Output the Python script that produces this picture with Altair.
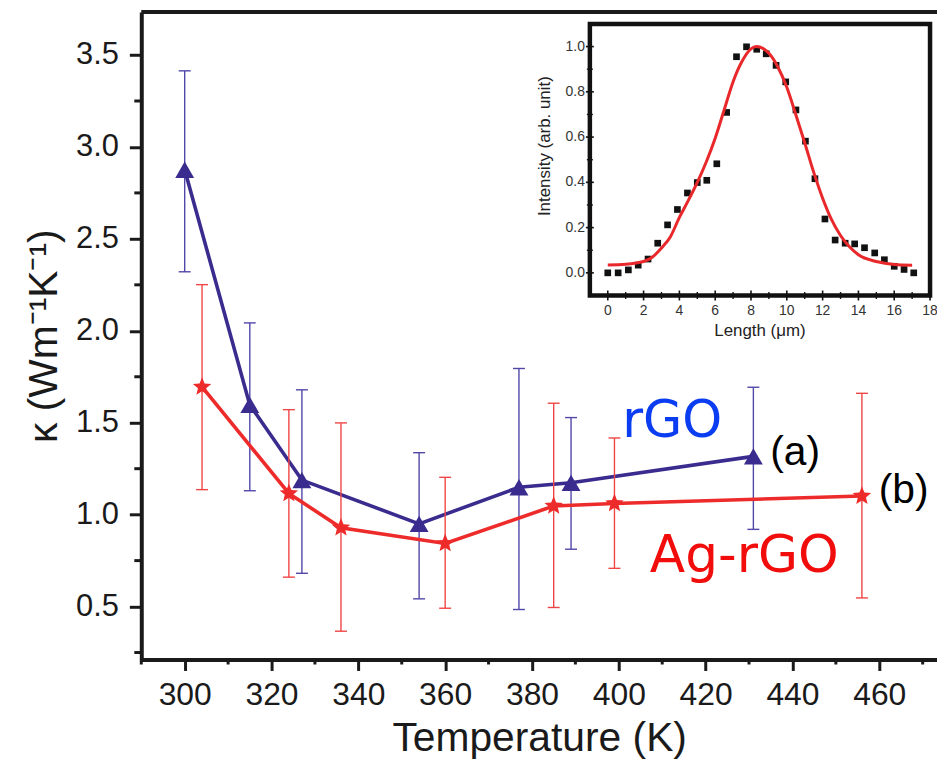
import altair as alt
import pandas as pd

# ---------------- main data ----------------
rgo_T = [300, 315, 327, 354, 377, 389, 431]
rgo_k = [2.876, 1.597, 1.188, 0.950, 1.149, 1.173, 1.317]
rgo_lo = [2.321, 1.130, 0.681, 0.542, 0.484, 0.812, 0.920]
rgo_hi = [3.414, 2.043, 1.679, 1.337, 1.795, 1.528, 1.693]

ag_T = [304, 324, 336, 360, 385, 399, 456]
ag_k = [1.695, 1.115, 0.929, 0.843, 1.047, 1.061, 1.101]
ag_lo = [1.136, 0.660, 0.366, 0.491, 0.495, 0.708, 0.547]
ag_hi = [2.251, 1.571, 1.499, 1.203, 1.606, 1.417, 1.660]

x_major = [300, 320, 340, 360, 380, 400, 420, 440, 460]
x_minor = [290, 310, 330, 350, 370, 390, 410, 430, 450, 470]
y_major = [0.5, 1.0, 1.5, 2.0, 2.5, 3.0, 3.5]
y_minor = [0.25, 0.75, 1.25, 1.75, 2.25, 2.75, 3.25]

# annotation labels (anchored in data coordinates)
rgo_label = ["rGO"]
rgo_label_T = [412.3]
rgo_label_k = [1.424]
ag_label = ["Ag-rGO"]
ag_label_T = [428.9]
ag_label_k = [0.688]
small_labels = ["(a)", "(b)"]
small_T = [440.6, 465.6]
small_k = [1.272, 1.061]

# ---------------- inset data ----------------
inset_L = [0.0, 0.58, 1.15, 1.70, 2.25, 2.79, 3.34, 3.89, 4.45, 5.0, 5.53, 6.09,
           6.64, 7.19, 7.75, 8.32, 8.85, 9.40, 9.94, 10.51, 11.04, 11.57, 12.13,
           12.70, 13.26, 13.79, 14.34, 14.91, 15.45, 16.0, 16.55, 17.09]
inset_I = [0.0, 0.0, 0.013, 0.034, 0.061, 0.131, 0.212, 0.280, 0.353, 0.399, 0.409,
           0.482, 0.709, 0.955, 0.999, 0.988, 0.968, 0.917, 0.844, 0.720, 0.582,
           0.416, 0.238, 0.145, 0.131, 0.128, 0.111, 0.088, 0.058, 0.029, 0.015, 0.0]
fit_L = [0, 1, 2, 2.5, 3, 3.5, 4, 4.5, 5, 5.5, 6, 6.5, 7, 7.5, 8, 8.3, 8.7, 9, 9.5,
         10, 10.5, 11, 11.5, 12, 12.5, 13, 13.5, 14, 15, 16, 17]
fit_I = [0.035, 0.038, 0.05, 0.07, 0.11, 0.16, 0.245, 0.32, 0.40, 0.49, 0.595, 0.72,
         0.845, 0.935, 0.99, 1.0, 0.99, 0.97, 0.91, 0.82, 0.70, 0.575, 0.445, 0.33,
         0.235, 0.165, 0.115, 0.08, 0.05, 0.037, 0.034]
inset_x_major = [0, 2, 4, 6, 8, 10, 12, 14, 16, 18]
inset_x_minor = [1, 3, 5, 7, 9, 11, 13, 15, 17]
inset_y_major = [0.0, 0.2, 0.4, 0.6, 0.8, 1.0]
inset_y_minor = [0.1, 0.3, 0.5, 0.7, 0.9]
inset_x_title = ["Length (μm)"]
inset_y_title = ["Intensity (arb. unit)"]

# ---------------- styling ----------------
W, H = 800, 651
FONT = "Liberation Sans"
INK = "#1a1a1a"
BLUE = "#3a2c8e"
BLUE_ERR = "#5047a8"
RED = "#ee2b2b"
RED_ERR = "#f04545"

xs = alt.Scale(domain=[290, 473.3], nice=False, zero=False)
ys = alt.Scale(domain=[0.212, 3.734], nice=False, zero=False)
xaxis = alt.Axis(values=x_major, title="Temperature (K)", grid=False,
                 domainWidth=4, domainColor=INK, tickSize=11, tickWidth=3,
                 tickColor=INK, labelFont=FONT, labelFontSize=32, labelColor=INK,
                 labelPadding=9, labelFlush=False, titleFont=FONT,
                 titleFontSize=41, titleFontWeight="normal", titleColor=INK,
                 titlePadding=8, orient="bottom")
yaxis = alt.Axis(values=y_major, format=".1f", title="κ (Wm⁻¹K⁻¹)", grid=False,
                 domainWidth=4, domainColor=INK, tickSize=12, tickWidth=3,
                 tickColor=INK, labelFont=FONT, labelFontSize=31, labelColor=INK,
                 labelPadding=11, labelFlush=False, titleFont=FONT,
                 titleFontSize=41, titleFontWeight="normal", titleColor=INK,
                 titlePadding=10, orient="left")


def X(f="T"):
    return alt.X(f"{f}:Q", scale=xs, axis=xaxis)


def Y(f="k"):
    return alt.Y(f"{f}:Q", scale=ys, axis=yaxis)


rgo = pd.DataFrame({"T": rgo_T, "k": rgo_k, "lo": rgo_lo, "hi": rgo_hi})
ag = pd.DataFrame({"T": ag_T, "k": ag_k, "lo": ag_lo, "hi": ag_hi})


def series(df, color, err_color, shape, size):
    base = alt.Chart(df)
    err = base.mark_rule(color=err_color, strokeWidth=1.4).encode(x=X(), y=Y("lo"), y2="hi")
    cap_lo = base.mark_tick(orient="horizontal", size=12, thickness=1.4,
                            color=err_color, opacity=1).encode(x=X(), y=Y("lo"))
    cap_hi = base.mark_tick(orient="horizontal", size=12, thickness=1.4,
                            color=err_color, opacity=1).encode(x=X(), y=Y("hi"))
    line = base.mark_line(color=color, strokeWidth=3.6).encode(x=X(), y=Y())
    pts = base.mark_point(shape=shape, filled=True, size=size, opacity=1,
                          color=color).encode(x=X(), y=Y())
    return [err, cap_lo, cap_hi, line, pts]


STAR = ("M0,-1L0.26,-0.36L0.9511,-0.309L0.42,0.14L0.5878,0.809L0,0.45"
        "L-0.5878,0.809L-0.42,0.14L-0.9511,-0.309L-0.26,-0.36Z")
b_layers = series(rgo, BLUE, BLUE_ERR, "triangle-up", 360)
r_layers = series(ag, RED, RED_ERR, STAR, 380)

minor_x = alt.Chart(pd.DataFrame({"T": x_minor})).mark_rule(
    color=INK, strokeWidth=3).encode(x=X(), y=alt.value(H), y2=alt.value(H + 5))
minor_y = alt.Chart(pd.DataFrame({"k": y_minor})).mark_rule(
    color=INK, strokeWidth=3).encode(y=Y(), x=alt.value(-7), x2=alt.value(0))
top_frame = alt.Chart(pd.DataFrame({"k": [y_major[-1]]})).mark_rule(
    color=INK, strokeWidth=4).encode(x=alt.value(0), x2=alt.value(W), y=alt.value(0))

rgo_text = alt.Chart(pd.DataFrame({"T": rgo_label_T, "k": rgo_label_k, "label": rgo_label})).mark_text(
    font="DejaVu Sans", fontSize=51, align="center", baseline="alphabetic", color="#0a3cf2"
).encode(x=X(), y=Y(), text="label:N")
ag_text = alt.Chart(pd.DataFrame({"T": ag_label_T, "k": ag_label_k, "label": ag_label})).mark_text(
    font="DejaVu Sans", fontSize=52, align="center", baseline="alphabetic", color="#f20d0d"
).encode(x=X(), y=Y(), text="label:N")
small_text = alt.Chart(pd.DataFrame({"T": small_T, "k": small_k, "label": small_labels})).mark_text(
    font=FONT, fontSize=41, align="center", baseline="alphabetic", color="#000000"
).encode(x=X(), y=Y(), text="label:N")

main = alt.layer(minor_x, minor_y, top_frame, *b_layers, *r_layers,
                 rgo_text, ag_text, small_text)

# ---------------- inset (own scales, hand-drawn axes through those scales) ----------------
ixs = alt.Scale(domain=[-1, 18], range=[451, 793], nice=False, zero=False)
iys = alt.Scale(domain=[-0.1, 1.1], range=[285, 12], nice=False, zero=False)


def IX(f="L"):
    return alt.X(f"{f}:Q", scale=ixs, axis=None)


def IY(f="I"):
    return alt.Y(f"{f}:Q", scale=iys, axis=None)


frame = alt.Chart(pd.DataFrame({"L": [-1], "L2": [18], "I": [-0.1], "I2": [1.1]})).mark_rect(
    fill="white", stroke="#111111", strokeWidth=4.5).encode(x=IX("L"), x2="L2", y=IY("I"), y2="I2")
fit = alt.Chart(pd.DataFrame({"L": fit_L, "I": fit_I})).mark_line(
    color="#e8282a", strokeWidth=3, interpolate="monotone").encode(x=IX(), y=IY())
sq = alt.Chart(pd.DataFrame({"L": inset_L, "I": inset_I})).mark_point(
    shape="square", filled=True, size=45, opacity=1, color="#111111").encode(x=IX(), y=IY())

ixt = pd.DataFrame({"L": inset_x_major, "I": [-0.1] * len(inset_x_major),
                    "lab": [str(v) for v in inset_x_major]})
ixm = pd.DataFrame({"L": inset_x_minor, "I": [-0.1] * len(inset_x_minor)})
iyt = pd.DataFrame({"I": inset_y_major, "L": [-1] * len(inset_y_major),
                    "lab": [f"{v:.1f}" for v in inset_y_major]})
iym = pd.DataFrame({"I": inset_y_minor, "L": [-1] * len(inset_y_minor)})

x_ticks = alt.Chart(ixt).mark_tick(orient="vertical", size=10, thickness=1.6,
                                   color="#111111", opacity=1).encode(x=IX(), y=IY())
x_mticks = alt.Chart(ixm).mark_tick(orient="vertical", size=7, thickness=1.4,
                                    color="#111111", opacity=1).encode(x=IX(), y=IY())
y_ticks = alt.Chart(iyt).mark_tick(orient="horizontal", size=8, thickness=1.6,
                                   color="#111111", opacity=1).encode(x=IX(), y=IY())
y_mticks = alt.Chart(iym).mark_tick(orient="horizontal", size=6, thickness=1.4,
                                    color="#111111", opacity=1).encode(x=IX(), y=IY())
x_labels = alt.Chart(ixt).mark_text(font=FONT, fontSize=14, color="#333333",
                                    baseline="top", dy=9).encode(x=IX(), y=IY(), text="lab:N")
y_labels = alt.Chart(iyt).mark_text(font=FONT, fontSize=14, color="#333333",
                                    align="right", baseline="middle", dx=-5).encode(
    x=IX(), y=IY(), text="lab:N")
x_title = alt.Chart(pd.DataFrame({"L": [8.5], "I": [-0.1], "lab": inset_x_title})).mark_text(
    font=FONT, fontSize=17, color="#222222", baseline="top", dy=28).encode(x=IX(), y=IY(), text="lab:N")
y_title = alt.Chart(pd.DataFrame({"L": [-1], "I": [0.56], "lab": inset_y_title})).mark_text(
    font=FONT, fontSize=17, color="#222222", angle=270, baseline="bottom", dy=-36).encode(
    x=IX(), y=IY(), text="lab:N")

inset = alt.layer(frame, x_ticks, x_mticks, y_ticks, y_mticks, x_labels, y_labels,
                  x_title, y_title, sq, fit)

chart = alt.layer(main, inset).resolve_scale(x="independent", y="independent").resolve_axis(
    x="independent", y="independent").properties(
    width=W, height=H,
    autosize=alt.AutoSizeParams(type="none"),
    padding={"left": 134, "top": 2, "right": 0, "bottom": 100},
    background="white",
).configure_view(stroke=None)

chart.save("out.html", embed_options={"renderer": "svg", "actions": False})
